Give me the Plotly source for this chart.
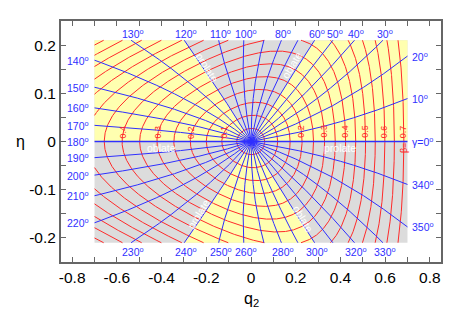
import numpy as np
import plotly.graph_objects as go

# ---------------- data ----------------
gamma_lines_deg = [0, 10, 20, 30, 40, 50, 60, 70, 80, 90, 100, 110, 120, 130, 140, 150, 160, 170,
                   180, 190, 200, 210, 220, 230, 240, 250, 260, 270, 280, 290, 300, 310, 320, 330, 340, 350]
beta_levels = [0.05, 0.10, 0.15, 0.20, 0.25, 0.30, 0.35, 0.40, 0.45, 0.50, 0.55, 0.60,
               0.65, 0.70, 0.75, 0.80, 0.85, 0.90, 0.95, 1.00]
beta_labels_right = [0.2, 0.3, 0.4, 0.5, 0.6, 0.7]
beta_labels_left = [0.1, 0.2, 0.3, 0.4]
# line angle -> label text shown next to where that line leaves the box
gamma_label_deg = [130, 120, 110, 100, 80, 60, 50, 40, 30,
                   20, 10, 0, 340, 350,
                   330, 320, 300, 280, 260, 250, 240, 230,
                   220, 210, 200, 190, 180, 170, 160, 150, 140]
gamma_label_txt = ["130", "120", "110", "100", "80", "60", "50", "40", "30",
                   "20", "10", "γ=0", "350", "340",
                   "330", "320", "300", "280", "260", "250", "240", "230",
                   "220", "210", "200", "190", "180", "170", "160", "150", "140"]
yellow_sectors = [(0, 60), (120, 180), (240, 300)]
x_tick_vals = [-0.8, -0.6, -0.4, -0.2, 0.0, 0.2, 0.4, 0.6, 0.8]
x_tick_text = ["-0.8", "-0.6", "-0.4", "-0.2", "0", "0.2", "0.4", "0.6", "0.8"]
x_minor_vals = [-0.8, -0.7, -0.6, -0.5, -0.4, -0.3, -0.2, -0.1, 0.0, 0.1, 0.2, 0.3, 0.4, 0.5, 0.6, 0.7, 0.8]
y_tick_vals = [-0.2, -0.1, 0.0, 0.1, 0.2]
y_tick_text = ["-0.2", "-0.1", "0", "0.1", "0.2"]
y_minor_vals = [-0.25, -0.2, -0.15, -0.1, -0.05, 0.0, 0.05, 0.1, 0.15, 0.2, 0.25]
q2_box = (-0.7, 0.7)
eta_box = (-0.21, 0.21)

# (beta, gamma) -> (q2, eta) transformation coefficients
P, Q, R, S = 1.25, 0.6, 0.3, 0.36
B, SK, U = 0.55, 0.3155, 0.485


def to_q2_eta(beta, gdeg):
    g = np.radians(gdeg)
    c, s = np.cos(g), np.sin(g)
    x = beta * c
    q2 = P * x - Q * x ** 2 + R * np.abs(x) ** 3 + S * (beta * s) ** 2
    eta = B * beta * s / (1 - SK * beta * c + U * beta * (1 - c) ** 2 / 4)
    return q2, eta


XMIN, XMAX = q2_box
YMIN, YMAX = eta_box


def lb_clip(x0, y0, x1, y1):
    dx, dy = x1 - x0, y1 - y0
    t0, t1 = 0.0, 1.0
    for p, q in ((-dx, x0 - XMIN), (dx, XMAX - x0), (-dy, y0 - YMIN), (dy, YMAX - y0)):
        if p == 0:
            if q < 0:
                return None
        else:
            r = q / p
            if p < 0:
                if r > t1:
                    return None
                if r > t0:
                    t0 = r
            else:
                if r < t0:
                    return None
                if r < t1:
                    t1 = r
    return t0, t1


def clip_polyline(xs, ys, ox, oy):
    running = False
    for i in range(len(xs) - 1):
        x0, y0, x1, y1 = xs[i], ys[i], xs[i + 1], ys[i + 1]
        res = lb_clip(x0, y0, x1, y1)
        if res is None:
            if running:
                ox.append(None); oy.append(None); running = False
            continue
        t0, t1 = res
        ax, ay = x0 + t0 * (x1 - x0), y0 + t0 * (y1 - y0)
        bx, by = x0 + t1 * (x1 - x0), y0 + t1 * (y1 - y0)
        if (not running) or t0 > 0:
            if running:
                ox.append(None); oy.append(None)
            ox.append(ax); oy.append(ay)
        ox.append(bx); oy.append(by)
        running = True
        if t1 < 1:
            ox.append(None); oy.append(None); running = False
    if running:
        ox.append(None); oy.append(None)


def clip_polygon(pts):
    def clip_edge(pts, inside, inter):
        out = []
        n = len(pts)
        for i in range(n):
            cur, prev = pts[i], pts[i - 1]
            if inside(cur):
                if not inside(prev):
                    out.append(inter(prev, cur))
                out.append(cur)
            elif inside(prev):
                out.append(inter(prev, cur))
        return out

    def ix(a, b, xv):
        t = (xv - a[0]) / (b[0] - a[0])
        return (xv, a[1] + t * (b[1] - a[1]))

    def iy(a, b, yv):
        t = (yv - a[1]) / (b[1] - a[1])
        return (a[0] + t * (b[0] - a[0]), yv)

    pts = clip_edge(pts, lambda p: p[0] >= XMIN, lambda a, b: ix(a, b, XMIN))
    pts = clip_edge(pts, lambda p: p[0] <= XMAX, lambda a, b: ix(a, b, XMAX))
    pts = clip_edge(pts, lambda p: p[1] >= YMIN, lambda a, b: iy(a, b, YMIN))
    pts = clip_edge(pts, lambda p: p[1] <= YMAX, lambda a, b: iy(a, b, YMAX))
    return pts


BMAX = 1.3
YELLOW = "#ffffb0"
GRAY = "#dcdcdc"
BLUE = "#2f2fff"
RED = "#ff2a2a"
FONT = "Liberation Sans, Arial, sans-serif"

fig = go.Figure()

# gray box
fig.add_trace(go.Scatter(x=[XMIN, XMAX, XMAX, XMIN, XMIN], y=[YMIN, YMIN, YMAX, YMAX, YMIN],
                         mode="lines", fill="toself", fillcolor=GRAY, line=dict(width=0),
                         hoverinfo="skip", showlegend=False))

# yellow sectors
bb = np.linspace(0, BMAX, 400)
for g1, g2 in yellow_sectors:
    qa, ea = to_q2_eta(bb, g1)
    gg = np.linspace(g1, g2, 300)
    qb, eb = to_q2_eta(BMAX, gg)
    qc, ec = to_q2_eta(bb[::-1], g2)
    pts = list(zip(qa, ea)) + list(zip(qb, eb)) + list(zip(qc, ec))
    cp = clip_polygon(pts)
    fig.add_trace(go.Scatter(x=[p[0] for p in cp] + [cp[0][0]], y=[p[1] for p in cp] + [cp[0][1]],
                             mode="lines", fill="toself", fillcolor=YELLOW, line=dict(width=0),
                             hoverinfo="skip", showlegend=False))

# beta contours (red)
rx, ry = [], []
gg_full = np.linspace(0, 360, 1441)
for b in beta_levels:
    q, e = to_q2_eta(b, gg_full)
    clip_polyline(list(q), list(e), rx, ry)
fig.add_trace(go.Scatter(x=rx, y=ry, mode="lines", line=dict(color=RED, width=1),
                         hoverinfo="skip", showlegend=False))

# gamma lines (blue)
bx, by = [], []
hx, hy = [], []
bfine = np.linspace(0, BMAX, 1301)
for g in gamma_lines_deg:
    q, e = to_q2_eta(bfine, g)
    if g in (0, 180):
        clip_polyline(list(q), list(e), hx, hy)
    else:
        clip_polyline(list(q), list(e), bx, by)
fig.add_trace(go.Scatter(x=bx, y=by, mode="lines", line=dict(color=BLUE, width=1),
                         hoverinfo="skip", showlegend=False))
fig.add_trace(go.Scatter(x=hx, y=hy, mode="lines", line=dict(color=BLUE, width=1.7),
                         hoverinfo="skip", showlegend=False))

annotations = []

# gamma labels
for g, lab in zip(gamma_label_deg, gamma_label_txt):
    q, e = to_q2_eta(bfine, g)
    inside = (q >= XMIN) & (q <= XMAX) & (e >= YMIN) & (e <= YMAX)
    i = int(np.argmax(~inside))
    t1 = lb_clip(q[i - 1], e[i - 1], q[i], e[i])[1]
    px = q[i - 1] + t1 * (q[i] - q[i - 1])
    py = e[i - 1] + t1 * (e[i] - e[i - 1])
    txt = lab + "<sup>o</sup>"
    f = dict(family=FONT, size=10.5, color=BLUE)
    if abs(py - YMAX) < 1e-9:
        annotations.append(dict(x=px, y=0.2235, text=txt, showarrow=False, xanchor="center",
                                yanchor="middle", font=f, xshift=2))
    elif abs(py - YMIN) < 1e-9:
        annotations.append(dict(x=px, y=-0.2285, text=txt, showarrow=False, xanchor="center",
                                yanchor="middle", font=f, xshift=2))
    elif abs(px - XMAX) < 1e-9:
        annotations.append(dict(x=0.711, y=py, text=txt, showarrow=False, xanchor="left",
                                yanchor="middle", font=f))
    else:
        annotations.append(dict(x=-0.716, y=py, text=txt, showarrow=False, xanchor="right",
                                yanchor="middle", font=f))


# beta labels
def cross_q2(b, lo, hi, target):
    gg = np.linspace(lo, hi, 4001)
    q, e = to_q2_eta(b, gg)
    j = int(np.argmin(np.abs(e - target)))
    return q[j]


for b in beta_labels_right:
    annotations.append(dict(x=cross_q2(b, 0, 90, 0.021), y=0.021, text=f"{b:.1f}", showarrow=False,
                            textangle=-90, font=dict(family=FONT, size=9, color=RED)))
for b in beta_labels_left:
    annotations.append(dict(x=cross_q2(b, 90, 180, 0.019), y=0.019, text=f"{b:.1f}", showarrow=False,
                            textangle=-90, font=dict(family=FONT, size=9, color=RED)))
annotations.append(dict(x=cross_q2(0.7, 270, 360, -0.013), y=-0.014, text="β=", showarrow=False,
                        textangle=-90, font=dict(family=FONT, size=9, color=RED)))

# shape names
wf = dict(family=FONT, size=10.5, color="white")
annotations += [
    dict(x=0.182, y=0.159, text="oblate", textangle=-59, showarrow=False, font=wf),
    dict(x=-0.198, y=0.154, text="prolate", textangle=58, showarrow=False, font=wf),
    dict(x=-0.40, y=-0.013, text="oblate", showarrow=False, font=wf),
    dict(x=0.40, y=-0.013, text="prolate", showarrow=False, font=wf),
    dict(x=-0.236, y=-0.150, text="prolate", textangle=-58, showarrow=False, font=wf),
    dict(x=0.234, y=-0.160, text="oblate", textangle=59, showarrow=False, font=wf),
]

# axis titles
annotations.append(dict(x=0.5, y=-0.205, xref="paper", yref="paper", text="q<sub>2</sub>",
                        showarrow=False, font=dict(family=FONT, size=16, color="black")))
annotations.append(dict(x=-0.124, y=0.5, xref="paper", yref="paper", text="η",
                        showarrow=False, font=dict(family=FONT, size=16, color="black")))

axis_common = dict(showgrid=False, zeroline=False, showline=True, linecolor="#666", linewidth=2,
                   mirror="ticks", ticks="inside", ticklen=5, tickcolor="#666", tickwidth=1,
                   tickfont=dict(family=FONT, size=15.5, color="black"))

# page body adds an 8px margin, so the figure is 8px smaller than the window
fig.update_layout(
    width=461, height=320,
    margin=dict(l=53, r=28, t=11, b=66),
    paper_bgcolor="white", plot_bgcolor="white",
    xaxis=dict(range=[-0.85, 0.85], tickmode="array", tickvals=x_tick_vals, ticktext=x_tick_text,
               minor=dict(tickvals=x_minor_vals, ticks="inside", ticklen=5, tickcolor="#666"),
               **axis_common),
    yaxis=dict(range=[-0.25, 0.25], tickmode="array", tickvals=y_tick_vals, ticktext=y_tick_text,
               minor=dict(tickvals=y_minor_vals, ticks="inside", ticklen=5, tickcolor="#666"),
               **axis_common),
    annotations=annotations,
    showlegend=False,
)

fig.write_html("out.html")
